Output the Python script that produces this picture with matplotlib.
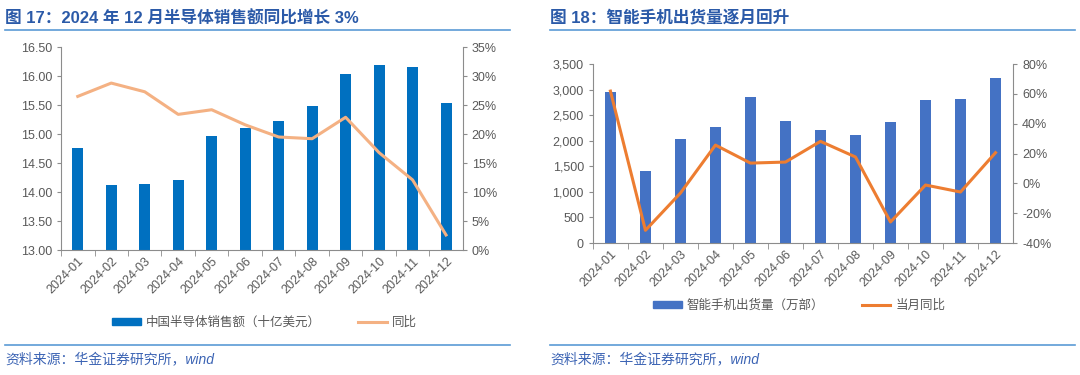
import numpy as np
import matplotlib
matplotlib.use('Agg')
import matplotlib.pyplot as plt
from matplotlib.lines import Line2D
from matplotlib.ticker import FuncFormatter, MultipleLocator

plt.rcParams['font.family'] = ['Liberation Sans', 'Noto Sans CJK SC', 'DejaVu Sans']

months = ['2024-01', '2024-02', '2024-03', '2024-04', '2024-05', '2024-06',
          '2024-07', '2024-08', '2024-09', '2024-10', '2024-11', '2024-12']

# fig 17: China semiconductor sales (bn USD) and yoy %
semi_sales = [14.76, 14.13, 14.14, 14.20, 14.97, 15.10, 15.23, 15.48, 16.04, 16.19, 16.15, 15.53]
semi_yoy = [26.5, 28.8, 27.3, 23.4, 24.2, 21.6, 19.5, 19.2, 22.9, 16.8, 12.1, 2.6]

# fig 18: smartphone shipments (10k units) and monthly yoy %
phone_ship = [2953, 1402, 2027, 2262, 2862, 2379, 2216, 2105, 2366, 2790, 2822, 3233]
phone_yoy = [61.9, -31.5, -6.5, 25.7, 13.6, 14.3, 28.2, 17.7, -25.9, -1.1, -5.8, 20.6]

grey = '#595959'
spine_c = '#8c8c8c'
title_c = '#2b5aa8'
rule_c = '#5b9bd5'

fig = plt.figure(figsize=(10.8, 3.75), dpi=100)


def style_axes(ax, ax2):
    for a in (ax, ax2):
        for s in a.spines.values():
            s.set_visible(False)
        a.tick_params(colors=grey, labelsize=9, length=3, color=spine_c)
    ax.spines['left'].set_visible(True)
    ax.spines['left'].set_color(spine_c)
    ax.spines['bottom'].set_visible(True)
    ax.spines['bottom'].set_color(spine_c)
    ax2.spines['right'].set_visible(True)
    ax2.spines['right'].set_color(spine_c)
    x = np.arange(len(months))
    ax.set_xlim(-0.5, len(months) - 0.5)
    ax.set_xticks(x - 0.5, minor=True)
    ax.set_xticks(x)
    ax.set_xticklabels(months, rotation=45, ha='right', rotation_mode='anchor')
    ax.tick_params(axis='x', which='major', length=0, pad=4)
    ax.tick_params(axis='x', which='minor', length=4, color=spine_c)


# ---- left chart
x = np.arange(len(months))
ax1 = fig.add_axes([0.0565, 0.3333, 0.372, 0.541])
ax1b = ax1.twinx()
ax1.bar(x, semi_sales, width=0.33, color='#0070c0', zorder=2)
ax1b.plot(x, semi_yoy, color='#f4b183', lw=2.2)
ax1.set_ylim(13, 16.5)
ax1.yaxis.set_major_locator(MultipleLocator(0.5))
ax1.yaxis.set_major_formatter(FuncFormatter(lambda v, p: '%.2f' % v))
ax1b.set_ylim(0, 35)
ax1b.yaxis.set_major_locator(MultipleLocator(5))
ax1b.yaxis.set_major_formatter(FuncFormatter(lambda v, p: '%d%%' % v))
style_axes(ax1, ax1b)

h1 = [plt.Rectangle((0, 0), 1, 1, color='#0070c0'), Line2D([], [], color='#f4b183', lw=2.2)]
fig.legend(h1, ['中国半导体销售额（十亿美元）', '同比'], loc='center', bbox_to_anchor=(0.245, 0.14),
           ncol=2, frameon=False, fontsize=9, labelcolor=grey, handlelength=2.3,
           handleheight=0.5, columnspacing=3, handletextpad=0.4)

# ---- right chart
ax2 = fig.add_axes([0.549, 0.352, 0.389, 0.477])
ax2b = ax2.twinx()
ax2.bar(x, phone_ship, width=0.32, color='#4472c4', zorder=2)
ax2b.plot(x, phone_yoy, color='#ed7d31', lw=2.2)
ax2.set_ylim(0, 3500)
ax2.yaxis.set_major_locator(MultipleLocator(500))
ax2.yaxis.set_major_formatter(FuncFormatter(lambda v, p: '{:,.0f}'.format(v)))
ax2b.set_ylim(-40, 80)
ax2b.yaxis.set_major_locator(MultipleLocator(20))
ax2b.yaxis.set_major_formatter(FuncFormatter(lambda v, p: '%d%%' % v))
style_axes(ax2, ax2b)

h2 = [plt.Rectangle((0, 0), 1, 1, color='#4472c4'), Line2D([], [], color='#ed7d31', lw=2.2)]
fig.legend(h2, ['智能手机出货量（万部）', '当月同比'], loc='center', bbox_to_anchor=(0.74, 0.185),
           ncol=2, frameon=False, fontsize=9, labelcolor=grey, handlelength=2.3,
           handleheight=0.5, columnspacing=3, handletextpad=0.4)

# ---- titles, rules, sources
fig.text(5 / 1080, 1 - 18 / 375, '图 17：2024 年 12 月半导体销售额同比增长 3%', fontsize=12,
         color=title_c, fontweight='bold', va='center', ha='left')
fig.text(550 / 1080, 1 - 18 / 375, '图 18：智能手机出货量逐月回升', fontsize=12,
         color=title_c, fontweight='bold', va='center', ha='left')
for x0, x1 in [(5, 510), (550, 1075)]:
    for yy in (30, 345):
        fig.add_artist(Line2D([x0 / 1080, x1 / 1080], [1 - yy / 375] * 2, color=rule_c, lw=1.2))
for x0 in (5, 550):
    fig.text(x0 / 1080, 1 - 360 / 375, '资料来源：华金证券研究所，wind', fontsize=10,
             color='#3c64b4', style='italic', va='center', ha='left')

fig.savefig('out.png', dpi=100)
